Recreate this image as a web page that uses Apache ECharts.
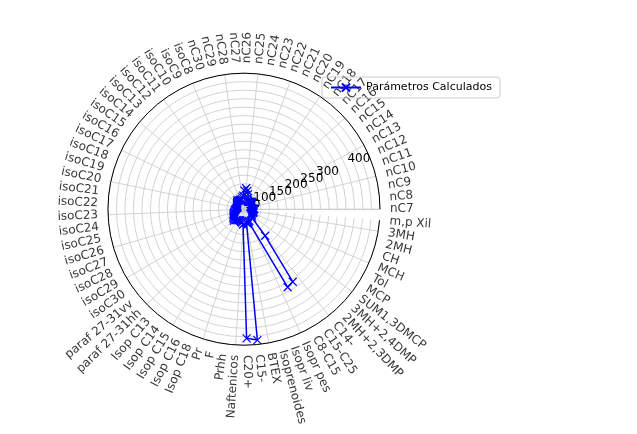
<!DOCTYPE html>
<html><head><meta charset="utf-8">
<script src="https://cdn.jsdelivr.net/npm/echarts@6/dist/echarts.min.js"></script>
<style>html,body{margin:0;padding:0;background:#fff}#c{width:637px;height:434px}</style>
</head><body><div id="c"></div>
<script>
const categories = ['nC7','nC8','nC9','nC10','nC11','nC12','nC13','nC14','nC15','nC16','nC17','nC18','nC19','nC20','nC21','nC22','nC23','nC24','nC25','nC26','nC27','nC28','nC29','nC30',
'isoC8','isoC9','isoC10','isoC11','isoC12','isoC13','isoC14','isoC15','isoC16','isoC17','isoC18','isoC19','isoC20','isoC21','isoC22','isoC23','isoC24','isoC25','isoC26','isoC27','isoC28','isoC29','isoC30',
'paraf 27-31vv','paraf 27-31hh','Isop C13','Isop C14','Isop C15','Isop C16','Isop C18','Pr','F','Prhh','Naftenicos',
'C20+','C15-','BTEX','Isoprenoides','Isopr liv','Isopr pes','C8-C15','C15-C25','C14-',
'2MH+2,3DMP','3MH+2,4DMP','SUM1,3DMCP','MCP','Tol','MCH','CH','2MH','3MH','m,p Xil'];
const values = [30,28,25,22,20,22,25,28,30,32,30,28,26,25,28,35,45,55,62,55,40,35,30,28,
30,28,30,32,30,28,26,25,24,22,22,20,20,22,24,25,26,28,30,32,34,35,38,
40,42,45,40,38,36,35,35,38,40,45,
380,387,40,45,40,38,263,257,100,
35,30,28,26,25,28,30,28,26,28];
const radiusTicks = [50,100,150,200,250,300,350,400];
const seriesName = 'Parámetros Calculados';

const N = categories.length;
const center = ['38.3%','48.2%'];
const lineData = values.map((v,i)=>[v,i]);
lineData.push([values[0],0]);
const labelData = categories.map((c,i)=>{
  const th = i*360/N;
  const flip = th>90 && th<270;
  return {value:[1,i], label:{rotate: flip? th-180 : th, align: flip?'right':'left'}};
});
const xPath = 'path://M0,0L10,10M10,0L0,10';
const chart = echarts.init(document.getElementById('c'));
chart.setOption({
  animation:false,
  textStyle:{fontFamily:'DejaVu Sans'},
  legend:{left:322,top:77,itemWidth:30,itemHeight:10,borderColor:'#ccc',borderWidth:1,borderRadius:3,padding:[5,8],
    textStyle:{fontSize:11,color:'#000'},data:[seriesName]},
  polar:[{center:center,radius:136},{center:center,radius:146},{center:center,radius:136}],
  angleAxis:[
    {polarIndex:0,type:'category',data:categories,startAngle:0,clockwise:false,boundaryGap:false,
     axisLine:{lineStyle:{color:'#000',width:1}},axisTick:{show:false},axisLabel:{show:false},
     splitLine:{show:true,lineStyle:{color:'#c8c8c8',width:0.8}}},
    {polarIndex:1,type:'category',data:categories,startAngle:0,clockwise:false,boundaryGap:false,
     axisLine:{show:false},axisTick:{show:false},axisLabel:{show:false},splitLine:{show:false}},
    {polarIndex:2,type:'value',min:0,max:360,startAngle:22.5,clockwise:false,
     axisLine:{show:false},axisTick:{show:false},axisLabel:{show:false},splitLine:{show:false}}
  ],
  radiusAxis:[
    {polarIndex:0,min:0,max:400,interval:25,axisLine:{show:true,lineStyle:{color:'#c8c8c8',width:0.8}},axisTick:{show:false},axisLabel:{show:false},
     splitLine:{show:true,lineStyle:{color:'#c8c8c8',width:0.8}}},
    {polarIndex:1,min:0,max:1,show:false},
    {polarIndex:2,min:0,max:400,interval:50,axisLine:{show:false},axisTick:{show:false},splitLine:{show:false},
     axisLabel:{color:'#000',fontSize:12,margin:-2,hideOverlap:false,showMinLabel:false,showMaxLabel:true,
       formatter:v=>radiusTicks.includes(v)?String(v):''}}
  ],
  series:[
    {name:seriesName,type:'line',coordinateSystem:'polar',polarIndex:0,data:lineData,
     symbol:xPath,symbolSize:8,lineStyle:{color:'#0000ff',width:1.5},
     itemStyle:{color:'#0000ff',borderColor:'#0000ff',borderWidth:1.2}},
    {type:'scatter',coordinateSystem:'polar',polarIndex:1,data:labelData,symbolSize:0,silent:true,
     label:{show:true,position:'inside',verticalAlign:'middle',color:'#000',fontSize:12,
       formatter:p=>categories[p.value[1]]}}
  ]
});
</script></body></html>
